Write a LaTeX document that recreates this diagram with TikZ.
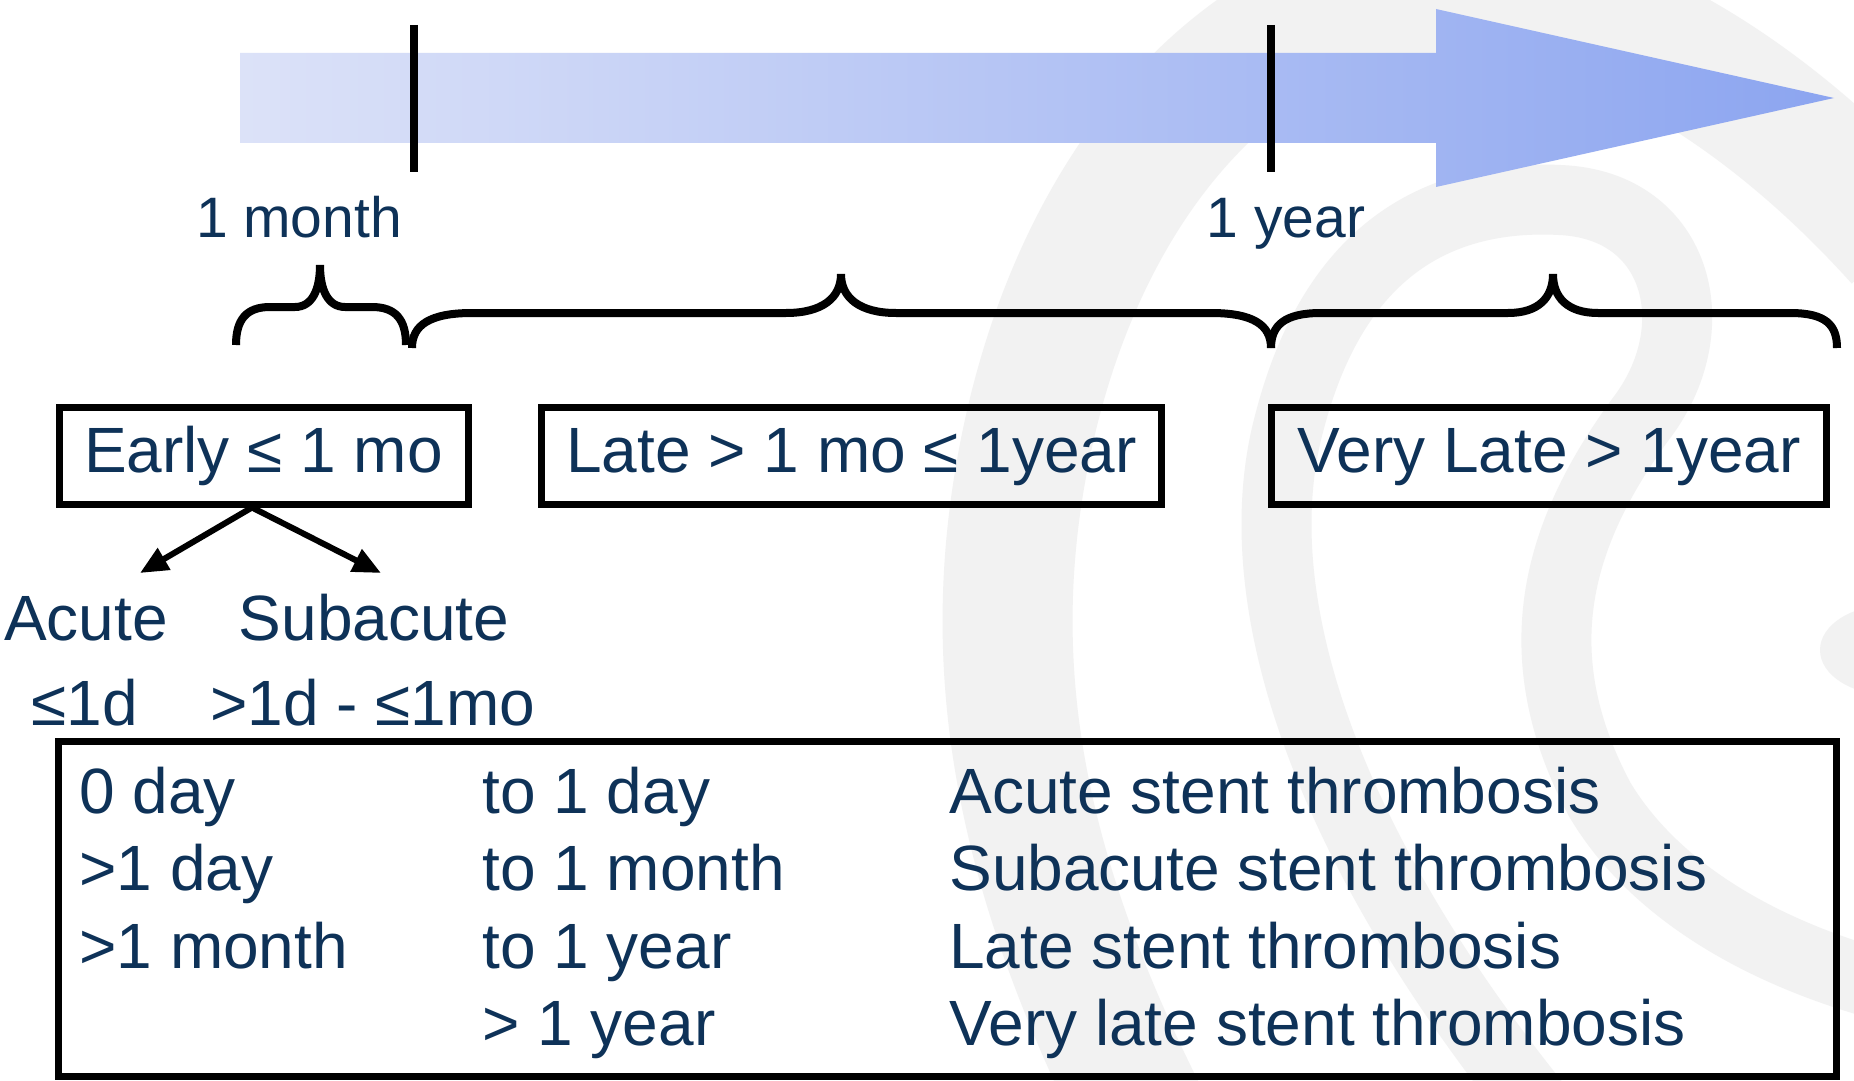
\documentclass[tikz,border=0pt]{standalone}
\usepackage{fontspec}
\setmainfont{Liberation Sans}
\usetikzlibrary{arrows.meta}
\definecolor{navy}{RGB}{14,50,88}
\definecolor{wmark}{RGB}{242,242,242}
\definecolor{arrowL}{RGB}{220,226,248}
\definecolor{arrowR}{RGB}{140,165,240}

\begin{document}
\begin{tikzpicture}[x=0.5pt,y=-0.5pt,
  txt/.style={text=navy,inner sep=0pt,font=\fontsize{32pt}{38pt}\selectfont},
  marklabel/.style={text=navy,inner sep=0pt,anchor=base,font=\fontsize{28.5pt}{34pt}\selectfont},
  phasebox/.style={draw=black,line width=3.5pt,rectangle,inner sep=0pt,
    minimum height=48.5pt,text height=24pt,text depth=7.5pt,text=navy,
    font=\fontsize{32pt}{38pt}\selectfont},
  tickmark/.style={line width=4pt},
  bracestroke/.style={line width=4pt},
  conn/.style={line width=3pt,-{Triangle[length=14pt,width=12pt]}},
  wm/.style={draw=wmark}
]
\useasboundingbox (0,0) rectangle (1854,1081);
\fill[white] (0,0) rectangle (1854,1081);

% faint swirl watermark in the background
\begin{scope}
  \clip (0,0) rectangle (1854,1081);
  \draw[wm,line width=65pt] (1140,1110) .. controls (1010,850) and (985,650) .. (1025,450)
    .. controls (1065,250) and (1170,80) .. (1330,10)
    .. controls (1500,-60) and (1720,40) .. (1900,240);
  \draw[wm,line width=35pt] (1540,1110) .. controls (1330,850) and (1240,600) .. (1290,420)
    .. controls (1340,230) and (1460,195) .. (1560,200)
    .. controls (1680,205) and (1710,330) .. (1640,420)
    .. controls (1560,530) and (1520,650) .. (1600,800)
    .. controls (1660,900) and (1780,960) .. (1900,990);
  \fill[wmark] (1890,650) ellipse [x radius=70, y radius=45];
\end{scope}

% time arrow
\shade[left color=arrowL,right color=arrowR] (240,53) -- (1436,53) -- (1436,9) -- (1834,98)
  -- (1436,187) -- (1436,143) -- (240,143) -- cycle;
\draw[tickmark] (414,25) -- (414,172);
\draw[tickmark] (1271,25) -- (1271,172);
\node[marklabel] (lblmonth) at (299,237) {1 month};
\node[marklabel] (lblyear) at (1286,237) {1 year};

% braces over the three periods
\draw[bracestroke] (236,345) .. controls (236,320) and (246,307) .. (270,307) -- (295,307)
  .. controls (312,307) and (320,290) .. (320,265)
  .. controls (320,290) and (328,307) .. (345,307) -- (372,307)
  .. controls (396,307) and (406,320) .. (406,345);
\draw[bracestroke] (412,348) .. controls (412,325) and (430,313) .. (472,313) -- (786,313)
  .. controls (822,313) and (841,298) .. (841,274)
  .. controls (841,298) and (860,313) .. (896,313) -- (1211,313)
  .. controls (1253,313) and (1271,325) .. (1271,348);
\draw[bracestroke] (1271,348) .. controls (1271,325) and (1285,313) .. (1321,313) -- (1508,313)
  .. controls (1538,313) and (1553,298) .. (1553,274)
  .. controls (1553,298) and (1568,313) .. (1598,313) -- (1790,313)
  .. controls (1826,313) and (1837,325) .. (1837,348);

% period boxes
\node[phasebox,minimum width=204.5pt] (early) at (263.5,455.5) {Early ≤ 1 mo};
\node[phasebox,minimum width=310pt] (late) at (851.5,455.5) {Late > 1 mo ≤ 1year};
\node[phasebox,minimum width=277.5pt] (vlate) at (1549,455.5) {Very Late > 1year};

% split of the early period
\node[txt,anchor=base] (acute) at (86,640) {Acute};
\node[txt,anchor=base] (subacute) at (374,640) {Subacute};
\node[txt,anchor=base] (acuterange) at (85,725) {≤1d};
\node[txt,anchor=base] (subrange) at (373,725) {>1d - ≤1mo};
\coordinate (fork) at ([xshift=-5.75pt]early.south);
\coordinate (acutetip) at (140,573);
\coordinate (subtip) at (381,573);
\draw[conn] (fork) -- (acutetip);
\draw[conn] (fork) -- (subtip);

% definitions table
\node[draw,line width=3.5pt,rectangle,inner sep=0pt,minimum width=889pt,
  minimum height=167.5pt] (tbl) at (947,908.5) {};
\node[txt,anchor=base west] (r1a) at (79,813) {0 day};
\node[txt,anchor=base west] (r2a) at (79,890) {>1 day};
\node[txt,anchor=base west] (r3a) at (79,968) {>1 month};
\node[txt,anchor=base west] (r1b) at (482,813) {to 1 day};
\node[txt,anchor=base west] (r2b) at (482,890) {to 1 month};
\node[txt,anchor=base west] (r3b) at (482,968) {to 1 year};
\node[txt,anchor=base west] (r4b) at (482,1045) {> 1 year};
\node[txt,anchor=base west] (r1c) at (949,813) {Acute stent thrombosis};
\node[txt,anchor=base west] (r2c) at (949,890) {Subacute stent thrombosis};
\node[txt,anchor=base west] (r3c) at (949,968) {Late stent thrombosis};
\node[txt,anchor=base west] (r4c) at (949,1045) {Very late stent thrombosis};
\end{tikzpicture}
\end{document}
